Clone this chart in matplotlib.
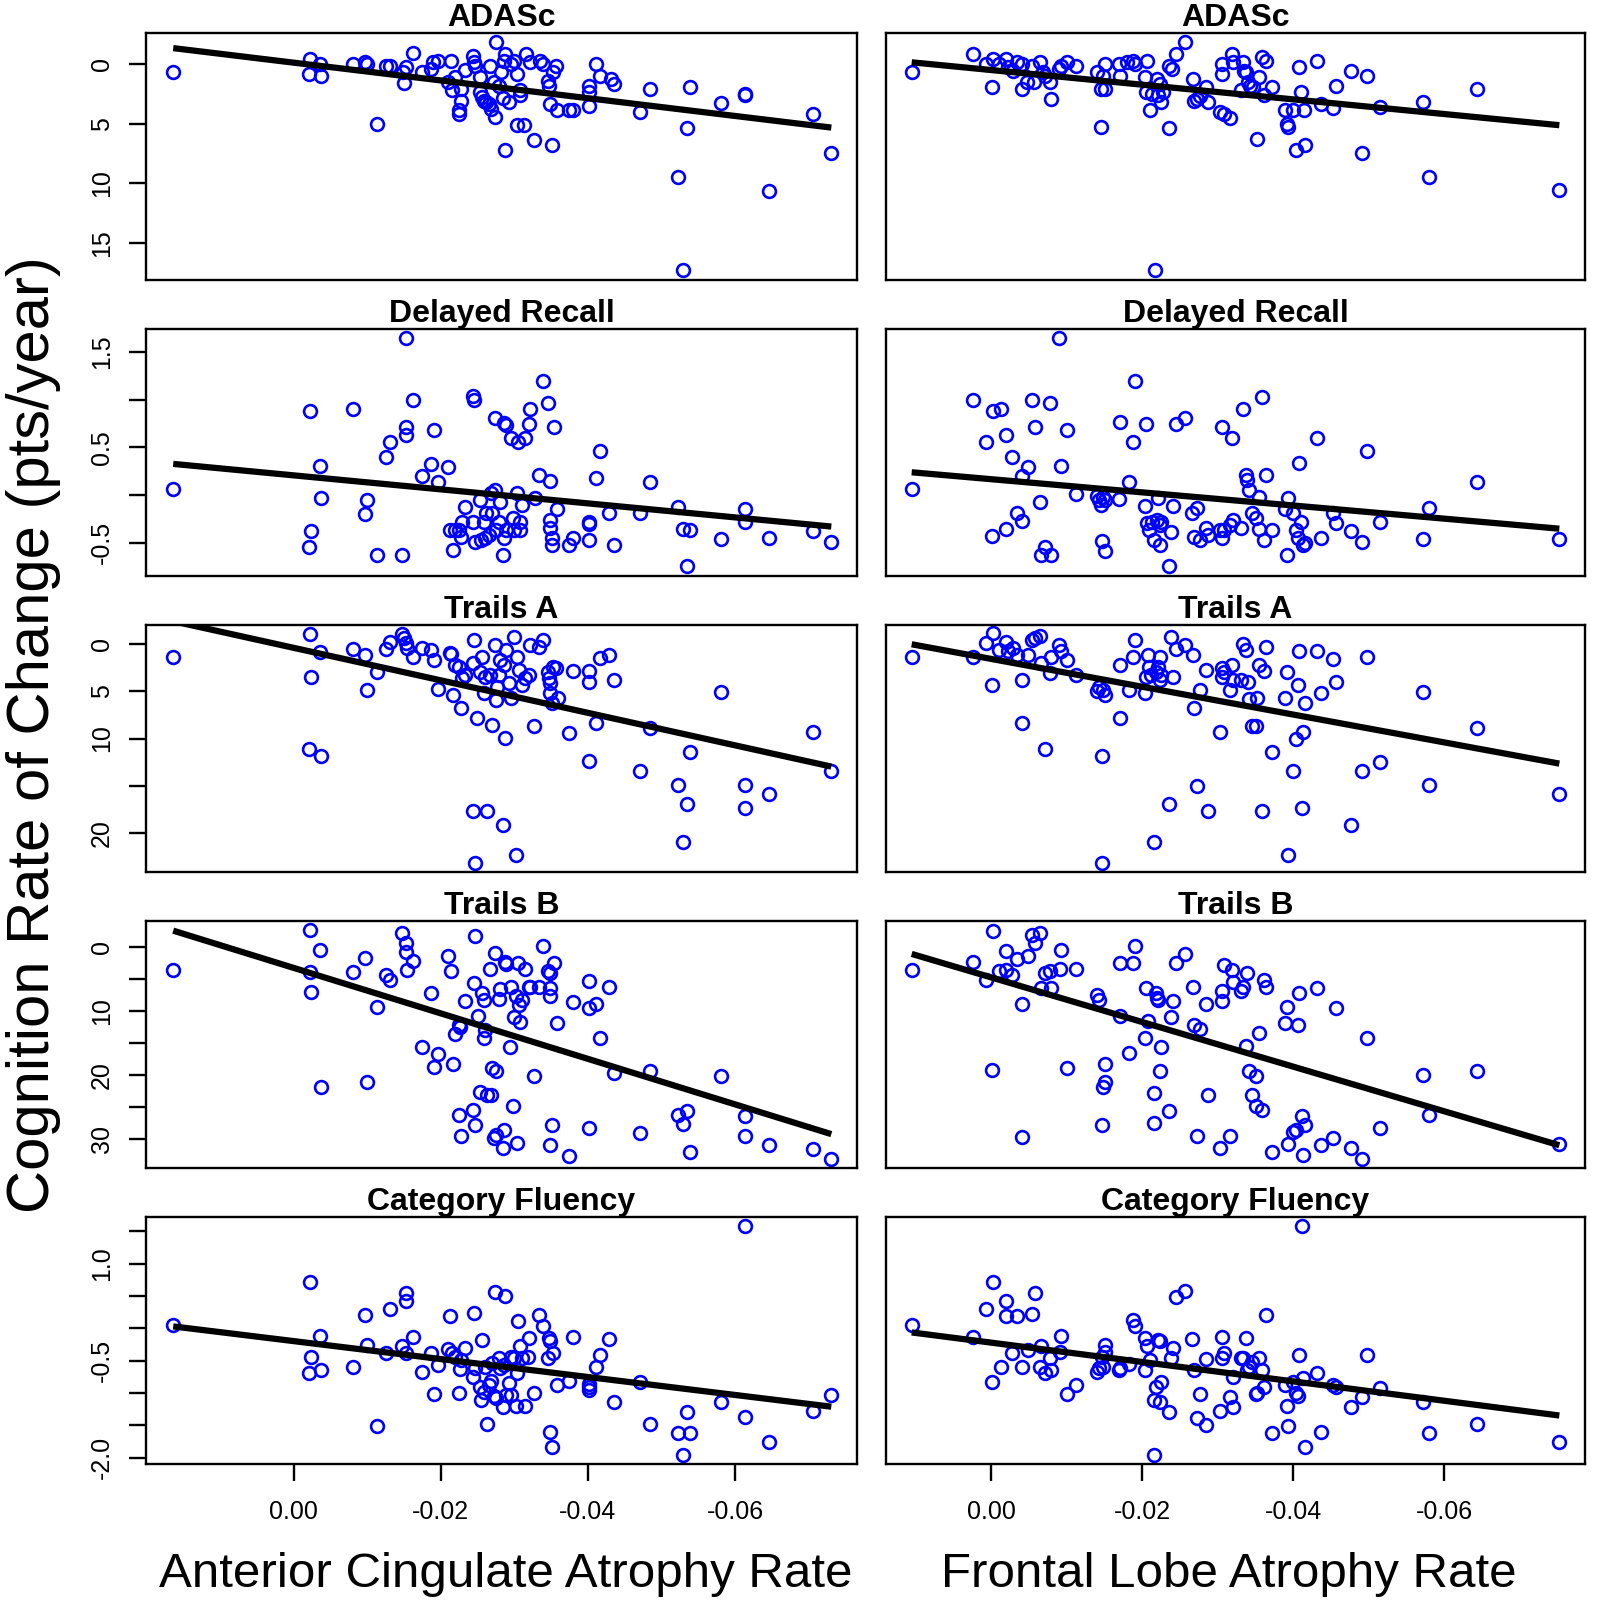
import numpy as np
import matplotlib.pyplot as plt

plt.rcParams['font.family'] = ['Liberation Sans', 'DejaVu Sans']

measures = ["ADASc", "Delayed Recall", "Trails A", "Trails B", "Category Fluency"]
x_titles = ["Anterior Cingulate Atrophy Rate", "Frontal Lobe Atrophy Rate"]
y_title = "Cognition Rate of Change (pts/year)"

# (atrophy rate, cognition change)
adas_ac = [(0.0164, 0.69), (-0.0022, -0.42), (-0.0020, 0.83), (-0.0035, 0.00), (-0.0037, 0.97),
           (-0.0080, 0.00), (-0.0097, -0.14), (-0.0099, 0.00), (-0.0113, 5.00), (-0.0126, 0.14),
           (-0.0131, 0.14), (-0.0148, 0.69), (-0.0152, 0.28), (-0.0150, 1.58), (-0.0162, -0.89),
           (-0.0174, 0.69), (-0.0186, 0.42), (-0.0189, -0.14), (-0.0196, -0.28), (-0.0214, -0.28),
           (-0.0210, 1.53), (-0.0215, 2.22), (-0.0219, 1.11), (-0.0224, 3.89), (-0.0224, 4.17),
           (-0.0228, 3.06), (-0.0228, 2.08), (-0.0233, 0.50), (-0.0244, -0.69), (-0.0245, -0.14),
           (-0.0247, 0.14), (-0.0253, 1.11), (-0.0253, 2.36), (-0.0256, 2.78), (-0.0258, 3.06),
           (-0.0261, 3.19), (-0.0265, 3.33), (-0.0268, 3.75), (-0.0267, 0.14), (-0.0272, 1.53),
           (-0.0274, 4.44), (-0.0275, -1.81), (-0.0279, 1.81), (-0.0282, 0.69), (-0.0284, 2.83),
           (-0.0286, -0.28), (-0.0287, -0.83), (-0.0287, 7.22), (-0.0293, 3.19), (-0.0296, 0.00),
           (-0.0300, -0.28), (-0.0304, 0.83), (-0.0304, 5.14), (-0.0308, 2.22), (-0.0307, 2.64),
           (-0.0313, 5.14), (-0.0316, -0.83), (-0.0321, -0.14), (-0.0327, 6.39), (-0.0335, -0.28),
           (-0.0339, 0.00), (-0.0346, 1.39), (-0.0347, 1.81), (-0.0349, 3.33), (-0.0351, 6.81),
           (-0.0353, 0.69), (-0.0356, 0.14), (-0.0358, 3.89), (-0.0374, 3.89), (-0.0380, 3.89),
           (-0.0401, 3.56), (-0.0402, 1.81), (-0.0402, 2.36), (-0.0411, 0.00), (-0.0416, 0.97),
           (-0.0431, 1.25), (-0.0436, 1.67), (-0.0471, 4.03), (-0.0485, 2.08), (-0.0522, 9.44),
           (-0.0529, 17.28), (-0.0535, 5.33), (-0.0539, 1.94), (-0.0581, 3.25), (-0.0613, 2.50),
           (-0.0614, 2.56), (-0.0646, 10.61), (-0.0706, 4.22), (-0.0731, 7.44)]

adas_fl = [(0.0105, 0.69), (0.0024, -0.83), (0.0007, 0.00), (-0.0001, 1.89), (-0.0002, -0.42),
           (-0.0011, 0.00), (-0.0020, -0.42), (-0.0022, 0.28), (-0.0029, 0.56), (-0.0035, -0.14),
           (-0.0041, 0.00), (-0.0041, 2.08), (-0.0048, 1.53), (-0.0054, 0.14), (-0.0057, 1.53),
           (-0.0065, -0.14), (-0.0069, 0.69), (-0.0072, 0.97), (-0.0078, 1.47), (-0.0079, 2.92),
           (-0.0090, 0.42), (-0.0093, 0.14), (-0.0101, -0.14), (-0.0113, 0.14), (-0.0140, 0.69),
           (-0.0145, 5.28), (-0.0145, 2.08), (-0.0148, 0.97), (-0.0151, 0.00), (-0.0151, 2.08),
           (-0.0169, 0.00), (-0.0171, 0.97), (-0.0180, -0.14), (-0.0188, -0.28), (-0.0191, 0.00),
           (-0.0204, 1.11), (-0.0206, -0.28), (-0.0205, 2.36), (-0.0210, 3.83), (-0.0213, 2.50),
           (-0.0217, 17.28), (-0.0219, 1.25), (-0.0221, 2.64), (-0.0224, 1.67), (-0.0225, 3.19),
           (-0.0227, 2.36), (-0.0235, 0.14), (-0.0236, 5.33), (-0.0239, 0.42), (-0.0245, -0.83),
           (-0.0256, -1.81), (-0.0267, 1.25), (-0.0269, 3.06), (-0.0273, 2.92), (-0.0277, 2.72),
           (-0.0285, 1.94), (-0.0287, 3.19), (-0.0303, 4.03), (-0.0305, 0.83), (-0.0306, 0.00),
           (-0.0308, 4.22), (-0.0316, 4.50), (-0.0319, -0.83), (-0.0320, -0.14), (-0.0334, -0.14),
           (-0.0335, 0.56), (-0.0337, 0.69), (-0.0331, 2.22), (-0.0340, 1.53), (-0.0343, 1.81),
           (-0.0346, 1.94), (-0.0352, 6.25), (-0.0354, 1.11), (-0.0358, -0.56), (-0.0361, 2.64),
           (-0.0364, -0.28), (-0.0372, 1.94), (-0.0389, 3.89), (-0.0392, 5.00), (-0.0393, 5.28),
           (-0.0400, 3.89), (-0.0404, 7.22), (-0.0408, 0.28), (-0.0410, 2.36), (-0.0414, 3.83),
           (-0.0416, 6.81), (-0.0431, -0.28), (-0.0436, 3.33), (-0.0453, 3.67), (-0.0456, 1.81),
           (-0.0476, 0.56), (-0.0491, 7.44), (-0.0498, 0.97), (-0.0515, 3.61), (-0.0571, 3.19),
           (-0.0580, 9.44), (-0.0643, 2.08), (-0.0752, 10.56)]

recall_ac = [(0.0164, 0.063), (-0.0022, 0.883), (-0.0036, 0.307), (-0.0037, -0.028), (-0.0024, -0.373),
             (-0.0020, -0.541), (-0.0080, 0.901), (-0.0099, -0.052), (-0.0097, -0.202), (-0.0113, -0.635),
             (-0.0126, 0.401), (-0.0131, 0.558), (-0.0147, -0.628), (-0.0152, 1.640), (-0.0152, 0.716),
             (-0.0152, 0.628), (-0.0162, 0.995), (-0.0174, 0.202), (-0.0186, 0.325), (-0.0191, 0.681),
             (-0.0196, 0.140), (-0.0210, 0.290), (-0.0213, -0.366), (-0.0217, -0.576), (-0.0219, -0.366),
             (-0.0224, -0.366), (-0.0227, -0.436), (-0.0229, -0.279), (-0.0233, -0.122), (-0.0244, 1.040),
             (-0.0245, 0.995), (-0.0244, -0.279), (-0.0247, -0.489), (-0.0253, -0.052), (-0.0254, -0.471),
             (-0.0258, -0.279), (-0.0260, -0.454), (-0.0261, -0.192), (-0.0265, -0.419), (-0.0268, 0.017),
             (-0.0270, -0.192), (-0.0274, 0.803), (-0.0274, 0.052), (-0.0275, -0.366), (-0.0279, -0.279),
             (-0.0281, -0.070), (-0.0284, -0.635), (-0.0286, 0.750), (-0.0288, 0.733), (-0.0286, -0.454),
             (-0.0288, -0.366), (-0.0295, 0.593), (-0.0298, -0.244), (-0.0300, -0.366), (-0.0304, 0.017),
             (-0.0305, 0.558), (-0.0307, -0.279), (-0.0308, -0.366), (-0.0311, -0.105), (-0.0314, 0.593),
             (-0.0320, 0.743), (-0.0321, 0.897), (-0.0328, -0.035), (-0.0333, 0.209), (-0.0339, 1.197),
             (-0.0346, 0.960), (-0.0348, 0.147), (-0.0349, -0.262), (-0.0349, -0.349), (-0.0351, -0.454),
             (-0.0351, -0.524), (-0.0354, 0.709), (-0.0358, -0.150), (-0.0374, -0.524), (-0.0380, -0.447),
             (-0.0401, -0.471), (-0.0401, -0.279), (-0.0402, -0.304), (-0.0411, 0.181), (-0.0416, 0.461),
             (-0.0429, -0.192), (-0.0436, -0.524), (-0.0471, -0.192), (-0.0485, 0.140), (-0.0522, -0.129),
             (-0.0529, -0.360), (-0.0535, -0.750), (-0.0539, -0.366), (-0.0581, -0.461), (-0.0613, -0.147),
             (-0.0614, -0.279), (-0.0646, -0.454), (-0.0706, -0.373), (-0.0731, -0.489)]

recall_fl = [(0.0105, 0.063), (0.0024, 0.995), (0.0007, 0.558), (-0.0001, -0.426), (-0.0002, 0.883),
             (-0.0013, 0.901), (-0.0020, 0.628), (-0.0020, -0.360), (-0.0028, 0.401), (-0.0035, -0.192),
             (-0.0041, -0.272), (-0.0041, 0.202), (-0.0049, 0.290), (-0.0054, 0.995), (-0.0058, 0.709),
             (-0.0065, -0.070), (-0.0066, -0.628), (-0.0072, -0.541), (-0.0078, 0.960), (-0.0079, -0.628),
             (-0.0093, 0.307), (-0.0101, 0.681), (-0.0090, 1.640), (-0.0113, 0.010), (-0.0140, -0.007),
             (-0.0143, -0.052), (-0.0145, -0.105), (-0.0148, -0.017), (-0.0151, -0.052), (-0.0147, -0.478),
             (-0.0151, -0.583), (-0.0169, -0.042), (-0.0171, 0.761), (-0.0183, 0.133), (-0.0188, 0.558),
             (-0.0191, 1.197), (-0.0204, -0.112), (-0.0205, 0.740), (-0.0206, -0.297), (-0.0209, -0.366),
             (-0.0213, -0.279), (-0.0216, -0.471), (-0.0219, -0.262), (-0.0221, -0.035), (-0.0223, -0.314),
             (-0.0224, -0.524), (-0.0225, -0.279), (-0.0236, -0.750), (-0.0238, -0.384), (-0.0241, -0.115),
             (-0.0245, 0.740), (-0.0256, 0.803), (-0.0266, -0.192), (-0.0269, -0.436), (-0.0272, -0.140),
             (-0.0276, -0.471), (-0.0285, -0.349), (-0.0287, -0.419), (-0.0303, -0.366), (-0.0305, -0.454),
             (-0.0306, 0.716), (-0.0308, -0.366), (-0.0316, -0.314), (-0.0319, 0.593), (-0.0320, -0.262),
             (-0.0331, -0.349), (-0.0334, 0.901), (-0.0337, 0.209), (-0.0339, 0.157), (-0.0341, 0.052),
             (-0.0345, -0.192), (-0.0351, -0.244), (-0.0354, -0.017), (-0.0355, -0.360), (-0.0358, 1.023),
             (-0.0361, -0.471), (-0.0364, 0.209), (-0.0372, -0.366), (-0.0389, -0.150), (-0.0392, -0.628),
             (-0.0393, -0.035), (-0.0400, -0.192), (-0.0404, -0.366), (-0.0406, -0.454), (-0.0408, 0.331),
             (-0.0410, -0.279), (-0.0413, -0.524), (-0.0416, -0.506), (-0.0431, 0.593), (-0.0436, -0.454),
             (-0.0453, -0.192), (-0.0456, -0.297), (-0.0476, -0.373), (-0.0491, -0.489), (-0.0498, 0.464),
             (-0.0515, -0.279), (-0.0571, -0.461), (-0.0580, -0.133), (-0.0643, 0.140), (-0.0752, -0.461)]

trails_a_ac = [(0.0164, 1.34), (-0.0022, -1.02), (-0.0024, 3.45), (-0.0020, 11.13), (-0.0037, 11.83),
               (-0.0035, 0.81), (-0.0080, 0.53), (-0.0097, 1.16), (-0.0100, 4.86), (-0.0113, 2.92),
               (-0.0126, 0.56), (-0.0131, -0.25), (-0.0147, -1.02), (-0.0150, -0.60), (-0.0152, -0.07),
               (-0.0154, 0.39), (-0.0162, 1.34), (-0.0174, 0.46), (-0.0186, 0.63), (-0.0191, 1.69),
               (-0.0196, 4.75), (-0.0212, 0.99), (-0.0214, 1.09), (-0.0217, 5.39), (-0.0219, 2.22),
               (-0.0224, 2.39), (-0.0228, 6.80), (-0.0229, 3.63), (-0.0233, 3.27), (-0.0244, 2.04),
               (-0.0244, 17.64), (-0.0245, -0.42), (-0.0249, 7.85), (-0.0253, 2.92), (-0.0256, 1.34),
               (-0.0258, 5.21), (-0.0260, 3.45), (-0.0263, 17.64), (-0.0267, 3.27), (-0.0270, 8.56),
               (-0.0274, 0.11), (-0.0275, 5.92), (-0.0277, 4.51), (-0.0279, 3.27), (-0.0281, 1.69),
               (-0.0284, 19.12), (-0.0286, 2.22), (-0.0287, 9.96), (-0.0289, 0.63), (-0.0293, 4.15),
               (-0.0296, 5.74), (-0.0300, -0.77), (-0.0302, 22.29), (-0.0304, 1.34), (-0.0306, 2.75),
               (-0.0311, 4.33), (-0.0314, 3.63), (-0.0320, 3.27), (-0.0321, 0.11), (-0.0327, 8.63),
               (-0.0333, 0.28), (-0.0339, -0.42), (-0.0346, 2.92), (-0.0347, 3.63), (-0.0349, 4.15),
               (-0.0349, 5.21), (-0.0351, 6.27), (-0.0353, 2.39), (-0.0356, 2.57), (-0.0359, 5.74),
               (-0.0374, 9.37), (-0.0380, 2.85), (-0.0401, 12.36), (-0.0401, 2.85), (-0.0402, 4.05),
               (-0.0411, 8.38), (-0.0416, 1.44), (-0.0429, 1.16), (-0.0436, 3.80), (-0.0471, 13.38),
               (-0.0485, 8.84), (-0.0522, 14.96), (-0.0529, 20.88), (-0.0535, 16.90), (-0.0539, 11.44),
               (-0.0581, 5.04), (-0.0613, 14.96), (-0.0614, 17.36), (-0.0646, 15.88), (-0.0706, 9.33),
               (-0.0731, 13.38), (-0.0247, 23.17)]

trails_a_fl = [(0.0105, 1.34), (0.0024, 1.34), (0.0007, -0.07), (-0.0001, 4.33), (-0.0002, -1.13),
               (-0.0011, 0.63), (-0.0020, -0.25), (-0.0023, 0.74), (-0.0029, 0.46), (-0.0034, 1.16),
               (-0.0041, 3.80), (-0.0041, 8.38), (-0.0049, 1.16), (-0.0054, -0.42), (-0.0058, -0.60),
               (-0.0065, -0.85), (-0.0066, 2.04), (-0.0072, 11.13), (-0.0078, 3.03), (-0.0079, 1.34),
               (-0.0090, 0.11), (-0.0093, 0.74), (-0.0101, 1.69), (-0.0113, 3.27), (-0.0140, 4.93),
               (-0.0143, 4.51), (-0.0147, 11.83), (-0.0148, 4.86), (-0.0151, 5.39), (-0.0171, 2.22),
               (-0.0171, 7.85), (-0.0183, 4.86), (-0.0188, 1.34), (-0.0191, -0.42), (-0.0204, 5.21),
               (-0.0205, 3.45), (-0.0208, 1.16), (-0.0209, 2.39), (-0.0212, 3.27), (-0.0216, 20.88),
               (-0.0218, 2.92), (-0.0221, 2.39), (-0.0223, 1.34), (-0.0224, 3.80), (-0.0225, 3.27),
               (-0.0236, 16.90), (-0.0238, -0.77), (-0.0241, 3.45), (-0.0245, 0.56), (-0.0256, 0.11),
               (-0.0267, 1.16), (-0.0269, 6.80), (-0.0272, 15.00), (-0.0276, 4.86), (-0.0285, 2.75),
               (-0.0287, 17.64), (-0.0303, 9.33), (-0.0305, 2.57), (-0.0306, 3.45), (-0.0308, 2.92),
               (-0.0316, 4.86), (-0.0319, 2.22), (-0.0320, 3.80), (-0.0331, 3.80), (-0.0334, 0.04),
               (-0.0337, 0.63), (-0.0340, 4.05), (-0.0341, 5.81), (-0.0345, 8.63), (-0.0351, 8.63),
               (-0.0352, 5.74), (-0.0354, 2.22), (-0.0358, 17.64), (-0.0361, 2.85), (-0.0364, 0.28),
               (-0.0372, 11.44), (-0.0389, 5.74), (-0.0392, 2.92), (-0.0393, 22.29), (-0.0400, 13.38),
               (-0.0404, 10.04), (-0.0406, 4.33), (-0.0408, 0.74), (-0.0411, 17.36), (-0.0413, 9.33),
               (-0.0416, 6.27), (-0.0431, 0.74), (-0.0436, 5.21), (-0.0453, 1.62), (-0.0456, 4.05),
               (-0.0476, 19.12), (-0.0491, 13.38), (-0.0498, 1.34), (-0.0515, 12.43), (-0.0571, 5.04),
               (-0.0580, 14.96), (-0.0643, 8.84), (-0.0752, 15.88), (-0.0147, 23.17)]

trails_b_ac = [(0.0164, 3.63), (-0.0022, -2.59), (-0.0022, 3.89), (-0.0024, 7.11), (-0.0036, 0.52),
               (-0.0037, 21.90), (-0.0080, 3.89), (-0.0097, 1.82), (-0.0100, 21.17), (-0.0113, 9.34),
               (-0.0126, 4.41), (-0.0131, 5.19), (-0.0147, -2.18), (-0.0152, -0.52), (-0.0152, 0.78),
               (-0.0154, 3.63), (-0.0162, 2.18), (-0.0174, 15.67), (-0.0186, 7.27), (-0.0191, 18.79),
               (-0.0196, 16.71), (-0.0210, 1.40), (-0.0214, 3.74), (-0.0217, 18.27), (-0.0219, 13.60),
               (-0.0224, 12.20), (-0.0226, 12.45), (-0.0228, 29.58), (-0.0224, 26.31), (-0.0233, 8.41),
               (-0.0244, 25.43), (-0.0245, 5.60), (-0.0247, 27.76), (-0.0247, -1.71), (-0.0250, 10.79),
               (-0.0253, 22.73), (-0.0256, 7.27), (-0.0258, 8.30), (-0.0258, 14.27), (-0.0260, 12.97),
               (-0.0263, 23.09), (-0.0267, 3.53), (-0.0268, 23.09), (-0.0270, 18.94), (-0.0272, 29.84),
               (-0.0274, 1.04), (-0.0275, 19.46), (-0.0275, 29.32), (-0.0279, 8.20), (-0.0281, 6.64),
               (-0.0284, 31.40), (-0.0286, 28.65), (-0.0287, 2.34), (-0.0289, 2.70), (-0.0294, 15.57),
               (-0.0296, 6.23), (-0.0298, 24.91), (-0.0300, 10.90), (-0.0302, 7.68), (-0.0304, 30.62),
               (-0.0305, 2.59), (-0.0306, 9.08), (-0.0307, 11.68), (-0.0311, 8.30), (-0.0314, 3.53),
               (-0.0320, 6.33), (-0.0321, 6.33), (-0.0327, 20.24), (-0.0333, 6.23), (-0.0339, -0.10),
               (-0.0346, 3.74), (-0.0348, 4.15), (-0.0349, 6.49), (-0.0349, 7.68), (-0.0351, 27.87),
               (-0.0349, 30.88), (-0.0354, 2.59), (-0.0358, 11.83), (-0.0374, 32.59), (-0.0380, 8.56),
               (-0.0401, 5.35), (-0.0401, 28.28), (-0.0402, 9.60), (-0.0411, 8.93), (-0.0416, 14.17),
               (-0.0429, 6.33), (-0.0436, 19.62), (-0.0471, 29.06), (-0.0485, 19.36), (-0.0522, 26.21),
               (-0.0529, 27.61), (-0.0535, 25.69), (-0.0539, 32.02), (-0.0581, 20.14), (-0.0613, 26.47),
               (-0.0613, 29.58), (-0.0646, 30.88), (-0.0706, 31.55), (-0.0731, 33.06)]

trails_b_fl = [(0.0105, 3.63), (0.0024, 2.34), (0.0007, 5.19), (-0.0001, 19.20), (-0.0002, -2.49),
               (-0.0011, 3.79), (-0.0020, 0.67), (-0.0020, 3.63), (-0.0028, 4.41), (-0.0035, 1.97),
               (-0.0041, 29.68), (-0.0041, 8.98), (-0.0049, 1.45), (-0.0054, -1.82), (-0.0058, -0.52),
               (-0.0065, -2.18), (-0.0066, 6.49), (-0.0071, 4.05), (-0.0078, 3.74), (-0.0079, 6.49),
               (-0.0093, 0.52), (-0.0091, 3.53), (-0.0101, 18.94), (-0.0113, 3.53), (-0.0140, 7.52),
               (-0.0143, 8.30), (-0.0147, 27.76), (-0.0148, 21.90), (-0.0151, 21.17), (-0.0151, 18.27),
               (-0.0171, 2.59), (-0.0171, 10.79), (-0.0183, 16.61), (-0.0188, 2.59), (-0.0191, -0.10),
               (-0.0204, 14.27), (-0.0205, 6.38), (-0.0208, 11.52), (-0.0215, 22.83), (-0.0216, 27.50),
               (-0.0218, 7.16), (-0.0219, 7.94), (-0.0221, 8.30), (-0.0224, 19.46), (-0.0225, 15.57),
               (-0.0236, 25.69), (-0.0238, 11.00), (-0.0241, 8.46), (-0.0245, 2.49), (-0.0256, 1.14),
               (-0.0267, 6.33), (-0.0269, 12.20), (-0.0272, 29.58), (-0.0276, 12.87), (-0.0285, 8.98),
               (-0.0287, 23.09), (-0.0303, 31.40), (-0.0305, 8.46), (-0.0306, 6.85), (-0.0308, 2.85),
               (-0.0316, 29.48), (-0.0319, 3.63), (-0.0320, 5.45), (-0.0331, 6.85), (-0.0334, 6.33),
               (-0.0337, 15.46), (-0.0339, 4.05), (-0.0341, 19.46), (-0.0345, 23.09), (-0.0351, 20.24),
               (-0.0351, 24.81), (-0.0354, 13.39), (-0.0358, 25.53), (-0.0361, 5.19), (-0.0364, 6.23),
               (-0.0372, 32.07), (-0.0389, 11.83), (-0.0392, 9.44), (-0.0393, 30.72), (-0.0400, 28.96),
               (-0.0404, 28.54), (-0.0406, 12.20), (-0.0408, 7.27), (-0.0411, 26.36), (-0.0413, 32.54),
               (-0.0416, 27.76), (-0.0431, 6.38), (-0.0436, 30.88), (-0.0453, 29.84), (-0.0456, 9.60),
               (-0.0476, 31.40), (-0.0491, 33.06), (-0.0498, 14.17), (-0.0515, 28.28), (-0.0571, 20.08),
               (-0.0580, 26.21), (-0.0643, 19.46), (-0.0752, 30.72)]

fluency_ac = [(0.0164, 0.043), (-0.0022, 0.715), (-0.0024, -0.449), (-0.0020, -0.697), (-0.0036, -0.128),
              (-0.0037, -0.645), (-0.0080, -0.593), (-0.0097, 0.198), (-0.0100, -0.257), (-0.0113, -1.514),
              (-0.0126, -0.387), (-0.0131, 0.296), (-0.0147, -0.283), (-0.0152, 0.545), (-0.0152, 0.426),
              (-0.0152, -0.387), (-0.0162, -0.138), (-0.0174, -0.671), (-0.0186, -0.387), (-0.0191, -1.018),
              (-0.0196, -0.568), (-0.0210, -0.319), (-0.0213, 0.183), (-0.0215, -0.376), (-0.0219, -0.438),
              (-0.0224, -1.007), (-0.0226, -0.630), (-0.0228, -0.490), (-0.0233, -0.299), (-0.0244, -0.749),
              (-0.0245, 0.234), (-0.0247, -0.619), (-0.0253, -0.904), (-0.0254, -1.111), (-0.0256, -0.190),
              (-0.0258, -0.992), (-0.0260, -0.593), (-0.0263, -1.489), (-0.0265, -0.878), (-0.0268, -0.816),
              (-0.0270, -0.542), (-0.0272, -1.044), (-0.0274, 0.560), (-0.0275, -1.085), (-0.0279, -0.454),
              (-0.0281, -0.619), (-0.0284, -1.214), (-0.0286, -0.568), (-0.0287, 0.493), (-0.0289, -1.033),
              (-0.0293, -0.852), (-0.0295, -1.033), (-0.0296, -0.449), (-0.0300, -0.467), (-0.0302, -1.199),
              (-0.0304, -0.697), (-0.0305, 0.115), (-0.0307, -0.273), (-0.0311, -0.467), (-0.0314, -1.199),
              (-0.0318, -0.438), (-0.0320, -0.154), (-0.0327, -1.007), (-0.0333, 0.209), (-0.0339, 0.027),
              (-0.0346, -0.467), (-0.0347, -0.154), (-0.0349, -0.205), (-0.0349, -1.602), (-0.0351, -1.835),
              (-0.0353, -0.387), (-0.0358, -0.878), (-0.0374, -0.816), (-0.0380, -0.138), (-0.0401, -0.866),
              (-0.0401, -0.954), (-0.0402, -0.904), (-0.0411, -0.599), (-0.0416, -0.412), (-0.0429, -0.164),
              (-0.0436, -1.147), (-0.0471, -0.837), (-0.0485, -1.489), (-0.0522, -1.613), (-0.0529, -1.964),
              (-0.0535, -1.292), (-0.0539, -1.628), (-0.0581, -1.136), (-0.0613, 1.579), (-0.0613, -1.380),
              (-0.0646, -1.757), (-0.0706, -1.276), (-0.0731, -1.033)]

fluency_fl = [(0.0105, 0.043), (0.0024, -0.138), (0.0007, 0.296), (-0.0001, -0.826), (-0.0002, 0.715),
              (-0.0013, -0.593), (-0.0020, 0.415), (-0.0020, 0.193), (-0.0028, -0.387), (-0.0035, 0.193),
              (-0.0041, -0.593), (-0.0049, -0.335), (-0.0054, 0.224), (-0.0058, 0.545), (-0.0065, -0.593),
              (-0.0066, -0.273), (-0.0071, -0.697), (-0.0078, -0.464), (-0.0079, -0.645), (-0.0093, -0.128),
              (-0.0091, -0.361), (-0.0101, -1.018), (-0.0113, -0.878), (-0.0140, -0.671), (-0.0143, -0.619),
              (-0.0147, -0.438), (-0.0148, -0.593), (-0.0151, -0.257), (-0.0151, -0.361), (-0.0169, -0.645),
              (-0.0171, -0.619), (-0.0183, -0.552), (-0.0188, 0.131), (-0.0191, 0.027), (-0.0204, -0.154),
              (-0.0204, -0.645), (-0.0206, -0.283), (-0.0210, -0.490), (-0.0215, -1.111), (-0.0218, -0.904),
              (-0.0221, -0.180), (-0.0223, -0.195), (-0.0223, -1.147), (-0.0225, -0.826), (-0.0236, -1.292),
              (-0.0238, -0.454), (-0.0241, -0.299), (-0.0245, 0.483), (-0.0256, 0.571), (-0.0266, -0.164),
              (-0.0269, -0.645), (-0.0272, -1.385), (-0.0276, -1.018), (-0.0285, -1.499), (-0.0285, -0.475),
              (-0.0303, -1.276), (-0.0305, -0.138), (-0.0306, -0.464), (-0.0308, -0.387), (-0.0316, -1.069),
              (-0.0320, -1.214), (-0.0320, -0.749), (-0.0331, -0.464), (-0.0334, -0.464), (-0.0337, -0.154),
              (-0.0339, -0.645), (-0.0341, -0.593), (-0.0345, -0.516), (-0.0351, -1.018), (-0.0352, -1.007),
              (-0.0354, -0.464), (-0.0358, -0.645), (-0.0361, -0.904), (-0.0364, 0.209), (-0.0372, -1.628),
              (-0.0389, -0.878), (-0.0392, -1.199), (-0.0393, -1.509), (-0.0400, -0.826), (-0.0404, -1.007),
              (-0.0406, -1.044), (-0.0408, -0.412), (-0.0411, 1.579), (-0.0413, -0.775), (-0.0416, -1.835),
              (-0.0431, -0.697), (-0.0436, -1.602), (-0.0453, -0.878), (-0.0456, -0.904), (-0.0476, -1.214),
              (-0.0491, -1.059), (-0.0498, -0.412), (-0.0515, -0.930), (-0.0571, -1.136), (-0.0580, -1.613),
              (-0.0643, -1.489), (-0.0752, -1.757), (-0.0215, -1.954)]

panels = [[adas_ac, adas_fl], [recall_ac, recall_fl], [trails_a_ac, trails_a_fl],
          [trails_b_ac, trails_b_fl], [fluency_ac, fluency_fl]]

# least-squares lines as drawn: intercept, slope
fit_intercept = [[-0.11, 0.505], [0.205, 0.165], [0.42, 1.585], [3.32, 4.79], [-0.200, -0.223]]
fit_slope = [[-74.4, -61.5], [7.34, 6.90], [-171.6, -147.1], [-354.3, -348.0], [13.87, 14.99]]

y_ticks = [[0, 5, 10, 15],
           [-0.5, 0.0, 0.5, 1.0, 1.5],
           [0, 5, 10, 15, 20],
           [0, 5, 10, 15, 20, 25, 30],
           [-2.0, -1.5, -1.0, -0.5, 0.0, 0.5, 1.0, 1.5]]
y_ticklabels = [["0", "5", "10", "15"],
                ["-0.5", "", "0.5", "", "1.5"],
                ["0", "5", "10", "", "20"],
                ["0", "", "10", "", "20", "", "30"],
                ["-2.0", "", "", "-0.5", "", "", "1.0", ""]]
y_limits = [(18.1, -2.6), (-0.85, 1.74), (24.1, -2.0), (34.5, -4.0), (-2.10, 1.72)]
x_limits = [(0.0201, -0.0766), (0.0139, -0.0786)]
x_ticks = [0.0, -0.02, -0.04, -0.06]
x_ticklabels = ["0.00", "-0.02", "-0.04", "-0.06"]

fig = plt.figure(figsize=(16, 16), dpi=100)
col_left = [0.09125, 0.55375]
col_width = [0.4444, 0.4369]
row_bottom = [0.825, 0.64, 0.455, 0.27, 0.085]
row_height = 0.1544

for r in range(5):
    for c in range(2):
        ax = fig.add_axes([col_left[c], row_bottom[r], col_width[c], row_height])
        pts = np.array(panels[r][c])
        ax.plot(pts[:, 0], pts[:, 1], 'o', mfc='none', mec='#0000ff', ms=9.2, mew=1.9)
        xs = np.array([pts[:, 0].max(), pts[:, 0].min()])
        ax.plot(xs, fit_intercept[r][c] + fit_slope[r][c] * xs, color='black', lw=4.5, solid_capstyle='butt')
        ax.set_xlim(*x_limits[c])
        ax.set_ylim(*y_limits[r])
        ax.set_title(measures[r], fontsize=23, fontweight='bold', pad=3)
        for s in ax.spines.values():
            s.set_linewidth(1.7)
        ax.tick_params(length=12, width=1.7, labelsize=18)
        if c == 0:
            ax.set_yticks(y_ticks[r])
            ax.set_yticklabels(y_ticklabels[r], rotation=90, va='center')
            ax.tick_params(axis='y', pad=11)
        else:
            ax.set_yticks([])
        if r == 4:
            ax.set_xticks(x_ticks)
            ax.set_xticklabels(x_ticklabels)
            ax.tick_params(axis='x', pad=14)
        else:
            ax.set_xticks([])

fig.text(0.021, 0.541, y_title, rotation=90, ha='center', va='center', fontsize=43)
fig.text(0.316, 0.008, x_titles[0], ha='center', va='baseline', fontsize=35.5)
fig.text(0.768, 0.008, x_titles[1], ha='center', va='baseline', fontsize=35.5)

fig.savefig('out.png', dpi=100)
